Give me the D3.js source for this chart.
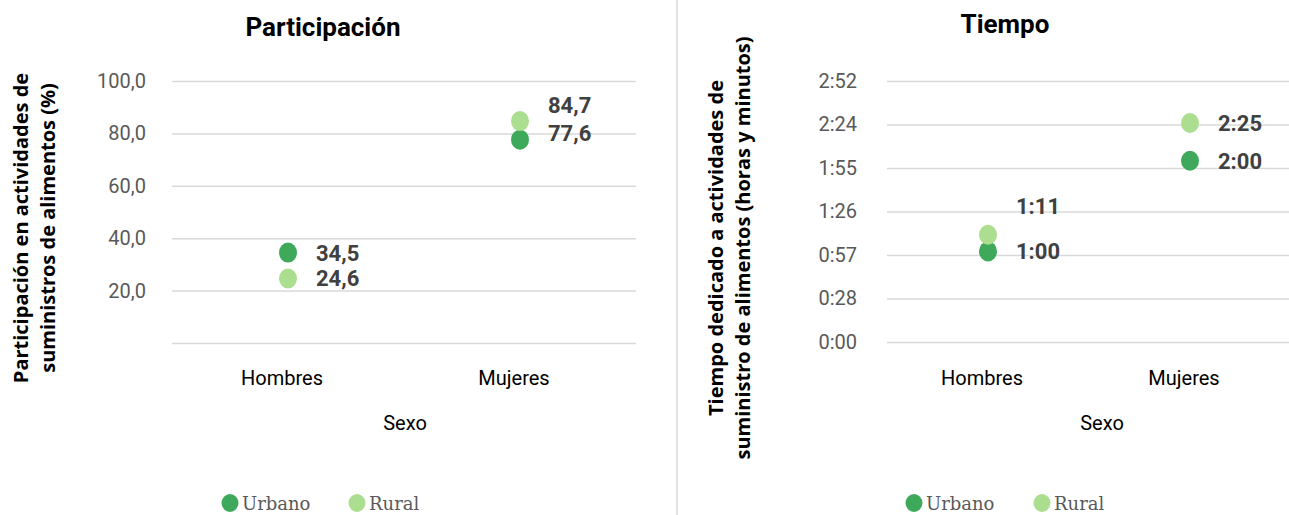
<!DOCTYPE html>
<html>
<head>
<meta charset="utf-8">
<script src="https://cdn.jsdelivr.net/npm/d3@7"></script>
<style>
  body { margin: 0; background: #fff; }
  svg { display: block; }
</style>
</head>
<body>
<div id="chart"></div>
<script>
// datos
const categorias = ["Hombres", "Mujeres"];
const series = ["Urbano", "Rural"];
const participUrbano = [34.5, 77.6];
const participRural = [24.6, 84.7];
// minutos
const tiempoUrbano = [60, 120];
const tiempoRural = [71, 145];
const participTicks = [0, 20, 40, 60, 80, 100];
const tiempoTicks = [0, 28.8, 57.6, 86.4, 115.2, 144, 172.8];

const colores = { Urbano: "#3fa95b", Rural: "#acde8f" };

const W = 1289, H = 515;
const svg = d3.select("#chart").append("svg").attr("width", W).attr("height", H);

// separador
svg.append("line")
    .attr("x1", 677).attr("x2", 677).attr("y1", 0).attr("y2", H)
    .attr("stroke", "#d9d9d9").attr("stroke-width", 1.5);

const fmtPct = v => d3.format(".1f")(v).replace(".", ",");
const fmtHora = m => {
    const h = Math.floor(m / 60);
    const mm = Math.floor(m % 60);
    return `${h}:${String(mm).padStart(2, "0")}`;
};

function panel(cfg) {
    const g = svg.append("g");
    const x = d3.scaleBand().domain(categorias).range([cfg.x0, cfg.x1]);
    const y = d3.scaleLinear().domain(cfg.domain).range([cfg.yBottom, cfg.yTop]);

    // titulo
    g.append("text")
        .attr("x", cfg.titleX).attr("y", cfg.titleY)
        .attr("text-anchor", "middle")
        .style("font-family", "Roboto").style("font-weight", "bold")
        .style("font-size", "26px").attr("fill", "#000")
        .text(cfg.title);

    // grid + ticks
    const axis = d3.axisLeft(y)
        .tickValues(cfg.ticks)
        .tickSize(-(cfg.x1 - cfg.x0))
        .tickPadding(cfg.tickPad)
        .tickFormat(cfg.tickFormat);
    const ga = g.append("g").attr("transform", `translate(${cfg.x0},0)`).call(axis);
    ga.select(".domain").remove();
    ga.selectAll(".tick line").attr("stroke", "#d9d9d9").attr("stroke-width", 1.5);
    ga.selectAll(".tick text")
        .style("font-family", "Roboto").style("font-size", "20px")
        .attr("fill", "#595959");

    // etiquetas de categoria
    g.selectAll(".cat").data(categorias).enter().append("text")
        .attr("x", d => x(d) + x.bandwidth() / 2 - 6)
        .attr("y", 385)
        .attr("text-anchor", "middle")
        .style("font-family", "Roboto").style("font-size", "20px")
        .attr("fill", "#000")
        .text(d => d);

    g.append("text")
        .attr("x", cfg.sexoX).attr("y", 430)
        .attr("text-anchor", "middle")
        .style("font-family", "Roboto").style("font-size", "20px")
        .attr("fill", "#000")
        .text("Sexo");

    // titulo eje y
    const yt = g.append("text")
        .attr("transform", `translate(${cfg.yTitleX},${cfg.yTitleY}) rotate(-90)`)
        .attr("text-anchor", "middle")
        .style("font-family", "Open Sans").style("font-weight", "bold")
        .style("font-size", "20px").attr("fill", "#000");
    cfg.yTitle.forEach((t, i) => {
        yt.append("tspan").attr("x", 0).attr("y", i * 27).text(t);
    });

    // puntos
    series.forEach(s => {
        const vals = cfg.values[s];
        vals.forEach((v, i) => {
            const cx = x(categorias[i]) + x.bandwidth() / 2;
            const cy = y(v);
            g.append("ellipse")
                .attr("cx", cx).attr("cy", cy)
                .attr("rx", 9).attr("ry", 10)
                .attr("fill", colores[s]);
            const nudge = cfg.nudge[`${categorias[i]}:${s}`] || 0;
            g.append("text")
                .attr("x", cx + 28).attr("y", cy + nudge)
                .attr("dy", "0.36em")
                .style("font-family", "Roboto").style("font-weight", "bold")
                .style("font-size", "22px").attr("fill", "#404040")
                .text(cfg.labelFormat(v));
        });
    });

    // leyenda
    series.forEach((s, i) => {
        const lx = cfg.legendX[i];
        g.append("ellipse")
            .attr("cx", lx).attr("cy", 503)
            .attr("rx", 8.5).attr("ry", 9)
            .attr("fill", colores[s]);
        g.append("text")
            .attr("x", lx + 12).attr("y", 510)
            .style("font-family", "DejaVu Serif").style("font-size", "18px")
            .attr("fill", "#595959")
            .text(s);
    });
}

panel({
    title: "Participación", titleX: 323, titleY: 36,
    x0: 172, x1: 636, yBottom: 343, yTop: 81, domain: [0, 100],
    ticks: participTicks, tickPad: 26,
    tickFormat: d => d === 0 ? "" : fmtPct(d),
    labelFormat: fmtPct,
    values: { Urbano: participUrbano, Rural: participRural },
    nudge: { "Mujeres:Rural": -16, "Mujeres:Urbano": -7 },
    yTitle: ["Participación en actividades de", "suministros de alimentos (%)"],
    yTitleX: 28, yTitleY: 228,
    sexoX: 405, legendX: [230, 357]
});

panel({
    title: "Tiempo", titleX: 1005, titleY: 33,
    x0: 887, x1: 1291, yBottom: 342, yTop: 81, domain: [0, 172.8],
    ticks: tiempoTicks, tickPad: 30,
    tickFormat: fmtHora,
    labelFormat: fmtHora,
    values: { Urbano: tiempoUrbano, Rural: tiempoRural },
    nudge: { "Hombres:Rural": -29 },
    yTitle: ["Tiempo dedicado a actividades de", "suministro de alimentos (horas y minutos)"],
    yTitleX: 723, yTitleY: 248,
    sexoX: 1102, legendX: [914, 1042]
});
</script>
</body>
</html>
